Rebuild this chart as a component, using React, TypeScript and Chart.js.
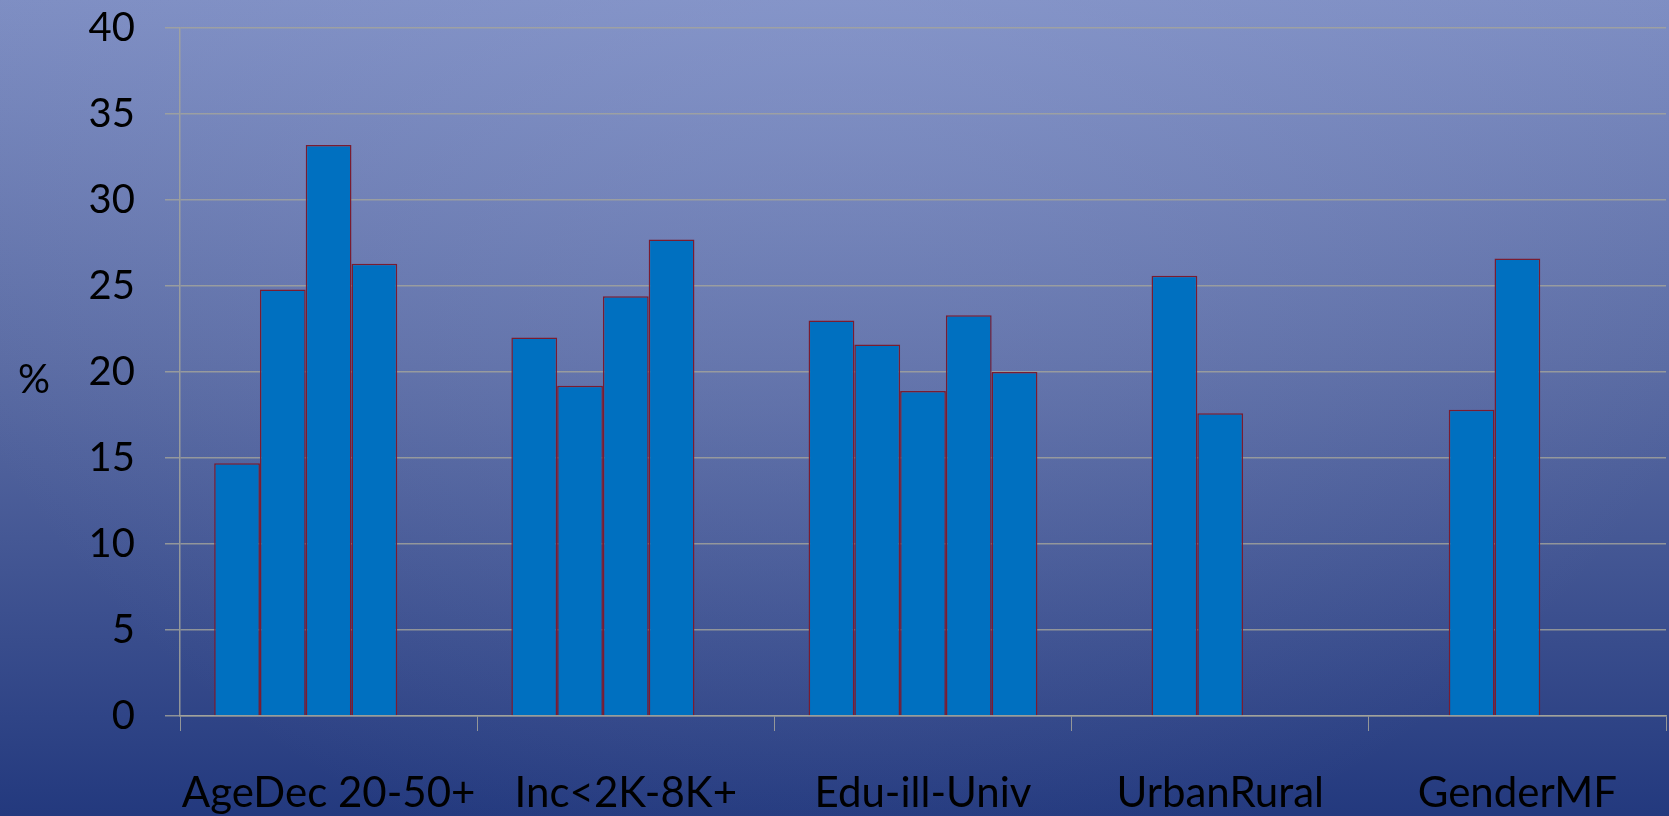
import React, { useEffect, useRef } from "react";
import { Chart, registerables } from "chart.js";

Chart.register(...registerables);

// Group labels along the x axis
const categories = ["AgeDec 20-50+", "Inc<2K-8K+", "Edu-ill-Univ", "UrbanRural", "GenderMF"];

// Percentages per bar slot within each group (null = empty slot)
const slot1: (number | null)[] = [14.7, 22.0, 23.0, null, null];
const slot2: (number | null)[] = [24.8, 19.2, 21.6, 25.6, 17.8];
const slot3: (number | null)[] = [33.2, 24.4, 18.9, 17.6, 26.6];
const slot4: (number | null)[] = [26.3, 27.7, 23.3, null, null];
const slot5: (number | null)[] = [null, null, 20.0, null, null];

const yTicks = [0, 5, 10, 15, 20, 25, 30, 35, 40];
const yTitle = "%";

const FONT = "Lato, 'Open Sans', sans-serif";

const backgroundPlugin = {
  id: "slideBackground",
  beforeDraw(chart: Chart) {
    const { ctx, width, height } = chart;
    ctx.save();
    const lin = ctx.createLinearGradient(0, 0, 0, height);
    lin.addColorStop(0, "#7d8dc2");
    lin.addColorStop(0.45, "#5a6ba3");
    lin.addColorStop(1, "#23397e");
    ctx.fillStyle = lin;
    ctx.fillRect(0, 0, width, height);
    const rad = ctx.createRadialGradient(width * 0.5, -height * 0.1, 0, width * 0.5, -height * 0.1, width * 0.6);
    rad.addColorStop(0, "rgba(150,165,215,0.35)");
    rad.addColorStop(1, "rgba(150,165,215,0)");
    ctx.fillStyle = rad;
    ctx.fillRect(0, 0, width, height);
    ctx.restore();
  },
};

const yTitlePlugin = {
  id: "yTitle",
  afterDraw(chart: Chart) {
    const { ctx, chartArea } = chart;
    ctx.save();
    ctx.font = `40px ${FONT}`;
    ctx.fillStyle = "#000";
    ctx.textAlign = "center";
    ctx.textBaseline = "middle";
    ctx.fillText(yTitle, 34, (chartArea.top + chartArea.bottom) / 2 + 8);
    ctx.restore();
  },
};

export default function App() {
  const canvasRef = useRef<HTMLCanvasElement | null>(null);

  useEffect(() => {
    document.body.style.margin = "0";
    const canvas = canvasRef.current;
    if (!canvas) return;
    const series = [slot1, slot2, slot3, slot4, slot5];
    const chart = new Chart(canvas, {
      type: "bar",
      data: {
        labels: categories,
        datasets: series.map((d, i) => ({
          label: `S${i + 1}`,
          data: d,
          backgroundColor: "#0070c0",
          borderColor: "#7a1c30",
          borderWidth: 1.5,
          categoryPercentage: 0.77,
          barPercentage: 1.0,
        })),
      },
      options: {
        animation: false,
        responsive: false,
        maintainAspectRatio: false,
        layout: { padding: { top: 28, right: 3, left: 0, bottom: 0 } },
        plugins: {
          legend: { display: false },
          tooltip: { enabled: false },
        },
        scales: {
          x: {
            grid: {
              offset: true,
              drawOnChartArea: false,
              drawTicks: true,
              tickLength: 15,
              color: "rgba(165,165,155,0.85)",
            },
            border: { color: "rgba(165,165,155,0.85)", width: 1.5 },
            ticks: {
              font: { family: FONT, size: 42 },
              color: "#000",
              padding: 37,
              maxRotation: 0,
            },
            afterFit(scale: any) {
              scale.height = 100;
            },
          },
          y: {
            min: 0,
            max: 40,
            afterBuildTicks(scale: any) {
              scale.ticks = yTicks.map((v) => ({ value: v }));
            },
            grid: {
              drawTicks: true,
              tickLength: 15,
              color: "rgba(165,165,155,0.8)",
              lineWidth: 1.5,
            },
            border: { color: "rgba(165,165,155,0.85)", width: 1.5 },
            ticks: {
              font: { family: FONT, size: 40 },
              color: "#000",
              padding: 30,
            },
            afterFit(scale: any) {
              scale.width = 180;
              scale.paddingTop = 0;
              scale.paddingBottom = 0;
            },
          },
        },
      },
      plugins: [backgroundPlugin, yTitlePlugin],
    });
    return () => chart.destroy();
  }, []);

  return <canvas ref={canvasRef} width={1669} height={816} style={{ display: "block" }} />;
}
